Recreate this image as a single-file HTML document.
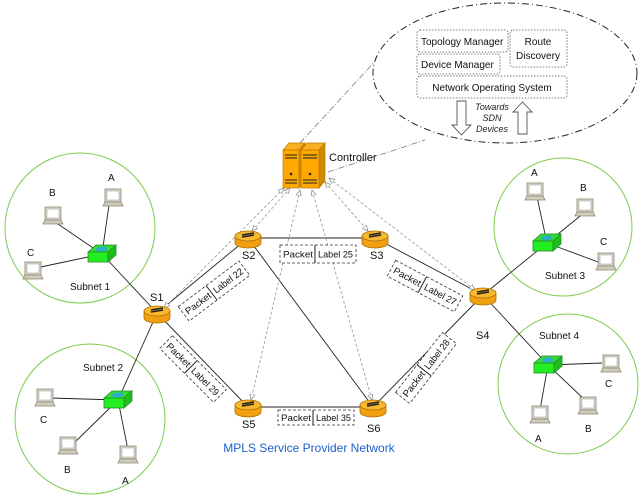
<!DOCTYPE html>
<html><head><meta charset="utf-8"><style>
html,body{margin:0;padding:0;background:#fff;}
svg{display:block;font-family:"Liberation Sans",Arial,sans-serif;}
</style></head><body>
<svg width="642" height="500" viewBox="0 0 642 500" xmlns="http://www.w3.org/2000/svg">
<defs>
<marker id="oa" viewBox="0 0 10 10" refX="9" refY="5" markerWidth="8" markerHeight="8" orient="auto-start-reverse">
<path d="M0,1 L9,5 L0,9 Z" fill="#fff" stroke="#888" stroke-width="1.2" stroke-dasharray="none"/></marker>
<g id="lap">
<rect x="-8" y="-9" width="16" height="13" fill="#d9d7c8" stroke="#8a8878" stroke-width="0.8"/>
<rect x="-6" y="-7" width="12" height="9" fill="#fff" stroke="#999" stroke-width="0.5"/>
<path d="M-8,4 L8,4 L10,8 L-10,8 Z" fill="#cfccba" stroke="#8a8878" stroke-width="0.8"/>
</g>
<g id="sw">
<path d="M-14,-2 L-6,-9 L14,-9 L6,-2 Z" fill="#33dd33" stroke="#2a8a2a" stroke-width="0.8"/>
<rect x="-14" y="-2" width="20" height="10" fill="#22ee22" stroke="#2a8a2a" stroke-width="0.8"/>
<path d="M6,-2 L14,-9 L14,1 L6,8 Z" fill="#1cc01c" stroke="#2a8a2a" stroke-width="0.8"/>
<path d="M-6,-5 L4,-7 M-4,-3 L5,-5" stroke="#2aa8d8" stroke-width="2"/>
</g>
<g id="rt">
<path d="M-13,0 L-13,7 A13,5 0 0 0 13,7 L13,0" fill="#f0a010" stroke="#b07000" stroke-width="0.8"/>
<ellipse cx="0" cy="0" rx="13" ry="5" fill="#f8b830" stroke="#b07000" stroke-width="0.8"/>
<path d="M-6,1 L6,-1 M-6,-1 L6,-3" stroke="#222" stroke-width="1.6"/>
</g>
</defs>

<g fill="none" stroke="#7ccc4c" stroke-width="1">
<circle cx="80" cy="228" r="75"/>
<circle cx="90" cy="419" r="75"/>
<circle cx="563" cy="227" r="69"/>
<circle cx="568" cy="384" r="70"/>
</g>

<g stroke="#222" stroke-width="0.9">
<line x1="157" y1="313" x2="248" y2="238"/>
<line x1="157" y1="313" x2="248" y2="407"/>
<line x1="248" y1="238" x2="375" y2="238"/>
<line x1="248" y1="238" x2="373" y2="407"/>
<line x1="375" y1="238" x2="483" y2="295"/>
<line x1="248" y1="407" x2="373" y2="407"/>
<line x1="373" y1="407" x2="483" y2="295"/>
<line x1="157" y1="313" x2="102" y2="254"/>
<line x1="157" y1="313" x2="118" y2="400"/>
<line x1="483" y1="295" x2="547" y2="243"/>
<line x1="483" y1="295" x2="548" y2="365"/>
<line x1="102" y1="254" x2="110" y2="198"/>
<line x1="102" y1="254" x2="55" y2="222"/>
<line x1="102" y1="254" x2="36" y2="268"/>
<line x1="118" y1="400" x2="50" y2="398"/>
<line x1="118" y1="400" x2="72" y2="445"/>
<line x1="118" y1="400" x2="128" y2="450"/>
<line x1="547" y1="243" x2="537" y2="197"/>
<line x1="547" y1="243" x2="585" y2="212"/>
<line x1="547" y1="243" x2="598" y2="262"/>
<line x1="548" y1="365" x2="602" y2="363"/>
<line x1="548" y1="365" x2="540" y2="410"/>
<line x1="548" y1="365" x2="585" y2="400"/>
</g>

<g stroke="#999" stroke-width="0.8" stroke-dasharray="3,2" fill="none" marker-start="url(#oa)" marker-end="url(#oa)">
<line x1="284" y1="188" x2="164" y2="308"/>
<line x1="290" y1="188" x2="252" y2="231"/>
<line x1="300" y1="190" x2="251" y2="400"/>
<line x1="312" y1="190" x2="372" y2="400"/>
<line x1="325" y1="182" x2="368" y2="231"/>
<line x1="329" y1="178" x2="475" y2="290"/>
</g>

<g stroke="#777" stroke-width="0.8" stroke-dasharray="6,2,1,2" fill="none">
<line x1="300" y1="143" x2="390" y2="45"/>
<line x1="328" y1="172" x2="425" y2="140"/>
</g>

<ellipse cx="505" cy="73" rx="132" ry="70" fill="#fff" stroke="#222" stroke-width="1" stroke-dasharray="7,3,1,3"/>
<g fill="none" stroke="#555" stroke-width="0.8" stroke-dasharray="1.5,1.5">
<rect x="417" y="30" width="91" height="22" rx="3"/>
<rect x="510" y="30" width="57" height="37" rx="3"/>
<rect x="417" y="54" width="83" height="20" rx="3"/>
<rect x="417" y="76" width="150" height="22" rx="3"/>
</g>
<g font-size="10" fill="#111">
<text x="421" y="45">Topology Manager</text>
<text x="538" y="45" text-anchor="middle">Route</text>
<text x="538" y="59" text-anchor="middle">Discovery</text>
<text x="421" y="68">Device Manager</text>
<text x="492" y="91" text-anchor="middle">Network Operating System</text>
</g>
<path d="M457,101 L466,101 L466,125 L471,125 L461.5,135 L452,125 L457,125 Z" fill="#fff" stroke="#555" stroke-width="0.9"/>
<path d="M518,134 L527,134 L527,112 L532,112 L522.5,102 L513,112 L518,112 Z" fill="#fff" stroke="#555" stroke-width="0.9"/>
<g font-size="9" font-style="italic" fill="#222" text-anchor="middle">
<text x="492" y="110">Towards</text>
<text x="492" y="121">SDN</text>
<text x="492" y="132">Devices</text>
</g>

<g stroke="#c07a00" stroke-width="0.7">
<path d="M283,150 L289,143 L305,143 L299,150 Z" fill="#f8b020"/>
<rect x="283" y="150" width="16" height="38" fill="#ffa800"/>
<path d="M299,150 L305,143 L305,181 L299,188 Z" fill="#d08800"/>
<path d="M301,150 L307,143 L325,143 L319,150 Z" fill="#f8b020"/>
<rect x="301" y="150" width="18" height="38" fill="#ffa800"/>
<path d="M319,150 L325,143 L325,181 L319,188 Z" fill="#d08800"/>
</g>
<g stroke="#222" stroke-width="1">
<line x1="285" y1="155" x2="297" y2="155"/><line x1="285" y1="158" x2="297" y2="158"/>
<line x1="285" y1="180" x2="297" y2="180"/><line x1="285" y1="183" x2="297" y2="183"/>
<line x1="303" y1="155" x2="317" y2="155"/><line x1="303" y1="158" x2="317" y2="158"/>
<line x1="303" y1="180" x2="317" y2="180"/><line x1="303" y1="183" x2="317" y2="183"/>
</g>
<circle cx="291" cy="174" r="1.3" fill="#222"/><circle cx="310" cy="174" r="1.3" fill="#222"/>
<text x="329" y="161" font-size="11" fill="#111">Controller</text>

<use href="#rt" x="157" y="311"/>
<use href="#rt" x="248" y="236"/>
<use href="#rt" x="375" y="236"/>
<use href="#rt" x="483" y="293"/>
<use href="#rt" x="248" y="405"/>
<use href="#rt" x="373" y="405"/>
<g font-size="11" fill="#111">
<text x="150" y="301">S1</text>
<text x="242" y="259">S2</text>
<text x="370" y="259">S3</text>
<text x="476" y="339">S4</text>
<text x="242" y="428">S5</text>
<text x="367" y="432">S6</text>
</g>

<use href="#sw" x="102" y="254"/>
<use href="#sw" x="118" y="400"/>
<use href="#sw" x="547" y="243"/>
<use href="#sw" x="548" y="365"/>

<use href="#lap" x="113" y="198"/>
<use href="#lap" x="53" y="216"/>
<use href="#lap" x="33" y="271"/>
<use href="#lap" x="45" y="398"/>
<use href="#lap" x="68" y="446"/>
<use href="#lap" x="128" y="455"/>
<use href="#lap" x="535" y="192"/>
<use href="#lap" x="585" y="208"/>
<use href="#lap" x="606" y="262"/>
<use href="#lap" x="611" y="364"/>
<use href="#lap" x="540" y="415"/>
<use href="#lap" x="588" y="406"/>

<g font-size="10" fill="#111">
<text x="108" y="181">A</text><text x="49" y="196">B</text><text x="27" y="256">C</text>
<text x="70" y="290">Subnet 1</text>
<text x="83" y="371">Subnet 2</text>
<text x="40" y="423">C</text><text x="64" y="473">B</text><text x="122" y="484">A</text>
<text x="531" y="176">A</text><text x="580" y="191">B</text><text x="600" y="245">C</text>
<text x="545" y="279">Subnet 3</text>
<text x="539" y="339">Subnet 4</text>
<text x="605" y="387">C</text><text x="535" y="442">A</text><text x="585" y="432">B</text>
</g>

<g font-size="9.5" fill="#111">
<g transform="translate(318,254)">
<rect x="-38" y="-9" width="76" height="18" fill="#fff" stroke="#333" stroke-width="0.8" stroke-dasharray="3,2"/>
<line x1="-3" y1="-9" x2="-3" y2="9" stroke="#222"/>
<text x="-35" y="3.5" textLength="30" lengthAdjust="spacingAndGlyphs">Packet</text><text x="0" y="3.5" textLength="35" lengthAdjust="spacingAndGlyphs">Label 25</text>
</g>
<g transform="translate(316,418)">
<rect x="-38" y="-8" width="76" height="15" fill="#fff" stroke="#333" stroke-width="0.8" stroke-dasharray="3,2"/>
<line x1="-3" y1="-8" x2="-3" y2="7" stroke="#222"/>
<text x="-35" y="3" textLength="30" lengthAdjust="spacingAndGlyphs">Packet</text><text x="0" y="3" textLength="35" lengthAdjust="spacingAndGlyphs">Label 35</text>
</g>
<g transform="translate(214,291) rotate(-37)">
<rect x="-38" y="-9" width="76" height="18" fill="#fff" stroke="#333" stroke-width="0.8" stroke-dasharray="3,2"/>
<line x1="-3" y1="-9" x2="-3" y2="9" stroke="#222"/>
<text x="-35" y="3.5" textLength="30" lengthAdjust="spacingAndGlyphs">Packet</text><text x="0" y="3.5" textLength="35" lengthAdjust="spacingAndGlyphs">Label 22</text>
</g>
<g transform="translate(425,286) rotate(28)">
<rect x="-38" y="-9" width="76" height="18" fill="#fff" stroke="#333" stroke-width="0.8" stroke-dasharray="3,2"/>
<line x1="-3" y1="-9" x2="-3" y2="9" stroke="#222"/>
<text x="-35" y="3.5" textLength="30" lengthAdjust="spacingAndGlyphs">Packet</text><text x="0" y="3.5" textLength="35" lengthAdjust="spacingAndGlyphs">Label 27</text>
</g>
<g transform="translate(193,369) rotate(45)">
<rect x="-38" y="-9" width="76" height="18" fill="#fff" stroke="#333" stroke-width="0.8" stroke-dasharray="3,2"/>
<line x1="-3" y1="-9" x2="-3" y2="9" stroke="#222"/>
<text x="-35" y="3.5" textLength="30" lengthAdjust="spacingAndGlyphs">Packet</text><text x="0" y="3.5" textLength="35" lengthAdjust="spacingAndGlyphs">Label 29</text>
</g>
<g transform="translate(426,368) rotate(-52)">
<rect x="-38" y="-9" width="76" height="18" fill="#fff" stroke="#333" stroke-width="0.8" stroke-dasharray="3,2"/>
<line x1="-3" y1="-9" x2="-3" y2="9" stroke="#222"/>
<text x="-35" y="3.5" textLength="30" lengthAdjust="spacingAndGlyphs">Packet</text><text x="0" y="3.5" textLength="35" lengthAdjust="spacingAndGlyphs">Label 28</text>
</g>
</g>

<text x="309" y="452" font-size="12" fill="#1f5fd0" text-anchor="middle">MPLS Service Provider Network</text>
</svg>
</body></html>
